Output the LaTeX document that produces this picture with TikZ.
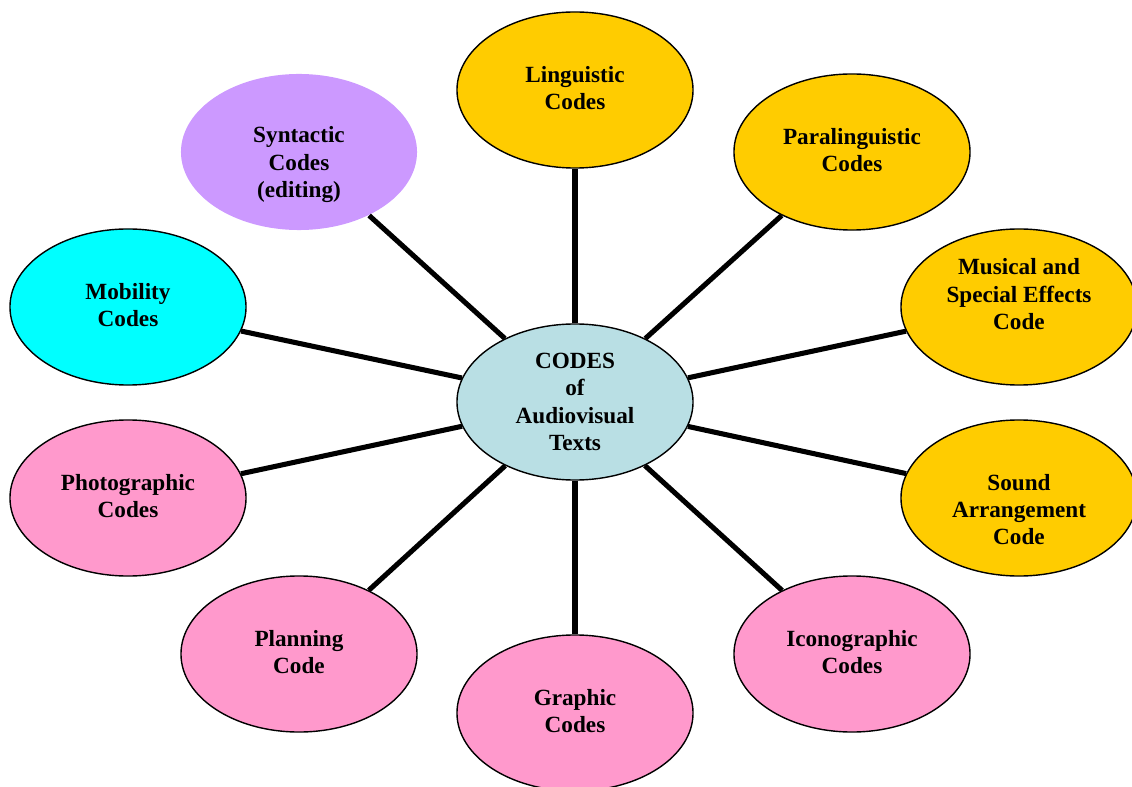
\documentclass[tikz,border=0pt]{standalone}
\usepackage{fontspec}
\setmainfont{Liberation Serif}
\usetikzlibrary{shapes.geometric}
\definecolor{codegold}{HTML}{FFCC00}
\definecolor{codepink}{HTML}{FF99CC}
\definecolor{codecyan}{HTML}{00FFFF}
\definecolor{codelilac}{HTML}{CC99FF}
\definecolor{codeblue}{HTML}{B9DFE4}
\tikzset{
	lifted/.style={text depth=3.5pt},
	textdown/.style={text height=#1},
	textup/.style={text depth=#1}
}
\begin{document}
\begin{tikzpicture}[x=0.025cm,y=-0.025cm]
		\useasboundingbox (0,0) rectangle (1132,787);
		\begin{scope}[every node/.style={ellipse, draw, line width=1pt, minimum width=5.9cm, minimum height=3.9cm, inner sep=0pt, align=center, font=\fontsize{16.5}{19.3}\selectfont\bfseries}]
			\node (C)[fill=codeblue] at (575,402) {CODES\\of\\Audiovisual\\Texts};
			\node (L)[fill=codegold, lifted] at (575,90) {Linguistic\\Codes};
			\node (P)[fill=codegold, lifted] at (852,152) {Paralinguistic\\Codes};
			\node (M)[fill=codegold, textup=18.5pt] at (1019,307) {Musical and\\Special Effects\\Code};
			\node (S)[fill=codegold, textdown=67pt] at (1019,498) {Sound\\Arrangement\\Code};
			\node (I)[fill=codepink, lifted] at (852,654) {Iconographic\\Codes};
			\node (G)[fill=codepink, lifted] at (575,713) {Graphic\\Codes};
			\node (Pl)[fill=codepink, lifted] at (299,654) {Planning\\Code};
			\node (Ph)[fill=codepink, lifted] at (128,498) {Photographic\\Codes};
			\node (Mo)[fill=codecyan, lifted] at (128,307) {Mobility\\Codes};
			\node (Sy)[fill=codelilac, draw=none, textdown=68pt] at (299,152) {Syntactic\\Codes\\(editing)};
		\end{scope}
		\begin{scope}[every edge/.style={draw, line width=3.6pt}]
			\path [-] (C) edge node {} (L);
			\path [-] (C) edge node {} (P);
			\path [-] (C) edge node {} (M);
			\path [-] (C) edge node {} (S);
			\path [-] (C) edge node {} (I);
			\path [-] (C) edge node {} (G);
			\path [-] (C) edge node {} (Pl);
			\path [-] (C) edge node {} (Ph);
			\path [-] (C) edge node {} (Mo);
			\path [-] (C) edge node {} (Sy);
		\end{scope}
	\end{tikzpicture}
\end{document}
